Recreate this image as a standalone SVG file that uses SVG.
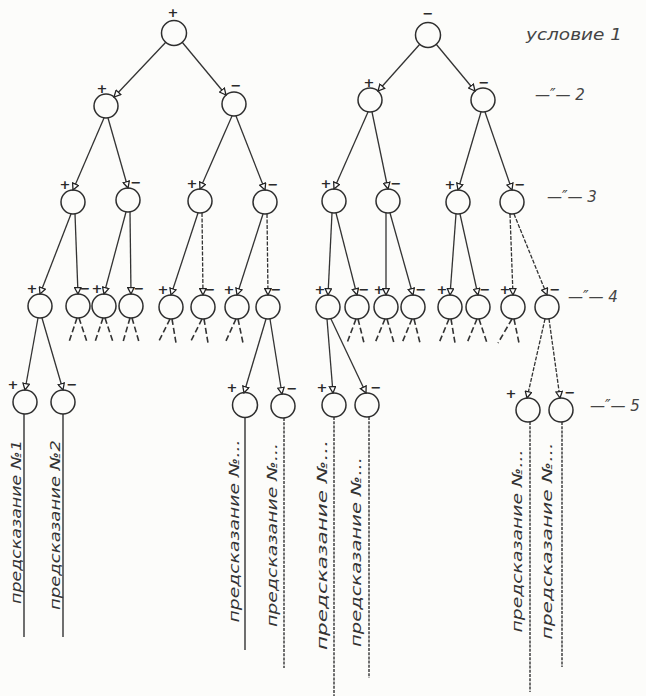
<svg xmlns="http://www.w3.org/2000/svg" width="646" height="696" viewBox="0 0 646 696">
<defs>
<style>
.bg{fill:#fcfcfa}
.n circle{fill:none;stroke:#2e2e2e;stroke-width:1.5}
.e line{stroke:#333;stroke-width:1.3;marker-end:url(#ah)}
.e line.d{stroke-dasharray:4 1.5}
.stub line{stroke:#333;stroke-width:1.6;stroke-dasharray:6 3}
.leaf line{stroke:#333;stroke-width:1.4}
.leaf line.d{stroke-dasharray:3 1.2}
.sg{font-family:"DejaVu Sans",sans-serif;font-size:13px;font-weight:bold;fill:#2a2a2a;text-anchor:middle}
.lv{font-family:"DejaVu Sans",sans-serif;font-style:italic;font-size:15px;fill:#444}
.pr{font-family:"DejaVu Sans",sans-serif;font-style:italic;font-size:14px;fill:#333;text-anchor:middle}
</style>
<marker id="ah" viewBox="0 0 10 10" refX="9" refY="5" markerWidth="8" markerHeight="8" orient="auto" markerUnits="userSpaceOnUse">
<path d="M1,1 L9,5 L1,9 z" fill="#fff" stroke="#222" stroke-width="1.6"/>
</marker>
</defs>
<rect class="bg" x="0" y="0" width="646" height="696"/>

<g id="connectors" class="e">
<line x1="166" y1="42" x2="114" y2="97"/>
<line x1="182" y1="42" x2="226" y2="95"/>
<line x1="420" y1="44" x2="378" y2="91"/>
<line x1="436" y1="44" x2="475" y2="91"/>
<line x1="104" y1="118" x2="73" y2="190"/>
<line x1="108" y1="118" x2="128" y2="188"/>
<line x1="232" y1="116" x2="200" y2="189"/>
<line x1="236" y1="116" x2="265" y2="190"/>
<line x1="368" y1="112" x2="334" y2="189"/>
<line x1="372" y1="112" x2="388" y2="189"/>
<line x1="481" y1="112" x2="458" y2="190"/>
<line x1="485" y1="112" x2="512" y2="190"/>
<line x1="71" y1="214" x2="40" y2="294"/>
<line x1="75" y1="214" x2="78" y2="294"/>
<line x1="126" y1="212" x2="104" y2="294"/>
<line x1="130" y1="212" x2="131" y2="294"/>
<line x1="198" y1="213" x2="171" y2="295"/>
<line class="d" x1="202" y1="213" x2="203" y2="295"/>
<line x1="263" y1="214" x2="237" y2="295"/>
<line class="d" x1="267" y1="214" x2="268" y2="295"/>
<line x1="332" y1="213" x2="328" y2="295"/>
<line x1="336" y1="213" x2="357" y2="295"/>
<line x1="386" y1="213" x2="386" y2="295"/>
<line x1="390" y1="213" x2="413" y2="295"/>
<line x1="456" y1="214" x2="450" y2="295"/>
<line x1="460" y1="214" x2="478" y2="295"/>
<line class="d" x1="510" y1="214" x2="513" y2="295"/>
<line class="d" x1="514" y1="214" x2="547" y2="295"/>
<line x1="38" y1="318" x2="25" y2="390"/>
<line x1="42" y1="318" x2="63" y2="390"/>
<line x1="266" y1="319" x2="244" y2="393"/>
<line x1="270" y1="319" x2="282" y2="394"/>
<line x1="327" y1="319" x2="333" y2="393"/>
<line x1="331" y1="319" x2="366" y2="393"/>
<line class="d" x1="545" y1="319" x2="527" y2="398"/>
<line class="d" x1="549" y1="319" x2="560" y2="398"/>
</g>

<g id="stubs" class="stub">
<line x1="77" y1="318" x2="69" y2="342"/><line x1="79" y1="318" x2="87" y2="342"/>
<line x1="103" y1="318" x2="95" y2="342"/><line x1="105" y1="318" x2="113" y2="342"/>
<line x1="130" y1="318" x2="123" y2="342"/><line x1="132" y1="318" x2="139" y2="342"/>
<line x1="170" y1="319" x2="158" y2="343"/><line x1="172" y1="319" x2="176" y2="343"/>
<line x1="202" y1="319" x2="190" y2="343"/><line x1="204" y1="319" x2="208" y2="343"/>
<line x1="236" y1="319" x2="225" y2="343"/><line x1="238" y1="319" x2="243" y2="343"/>
<line x1="356" y1="319" x2="347" y2="343"/><line x1="358" y1="319" x2="364" y2="343"/>
<line x1="385" y1="319" x2="375" y2="343"/><line x1="387" y1="319" x2="394" y2="343"/>
<line x1="412" y1="319" x2="402" y2="343"/><line x1="414" y1="319" x2="420" y2="343"/>
<line x1="449" y1="319" x2="439" y2="343"/><line x1="451" y1="319" x2="455" y2="343"/>
<line x1="477" y1="319" x2="467" y2="343"/><line x1="479" y1="319" x2="487" y2="343"/>
<line x1="512" y1="319" x2="498" y2="343"/><line x1="514" y1="319" x2="519" y2="343"/>
</g>

<g id="leaves" class="leaf">
<line x1="24" y1="414" x2="24" y2="637"/>
<line x1="63" y1="414" x2="63" y2="637"/>
<line x1="245" y1="417" x2="245" y2="650"/>
<line class="d" x1="284" y1="418" x2="284" y2="668"/>
<line class="d" x1="334" y1="417" x2="334" y2="696"/>
<line class="d" x1="369" y1="417" x2="369" y2="678"/>
<line class="d" x1="530" y1="422" x2="530" y2="692"/>
<line class="d" x1="562" y1="422" x2="562" y2="667"/>
</g>

<g id="nodes" class="n">
<g id="n1"><circle cx="174" cy="33" r="12.5"/><text class="sg" x="173" y="17">+</text></g>
<g id="n2"><circle cx="428" cy="35" r="12.5"/><text class="sg" x="428" y="18">−</text></g>
<g id="n1a"><circle cx="106" cy="106" r="12"/><text class="sg" x="102" y="93">+</text></g>
<g id="n1b"><circle cx="234" cy="104" r="12"/><text class="sg" x="236" y="90">−</text></g>
<g id="n2a"><circle cx="370" cy="100" r="12"/><text class="sg" x="369" y="87">+</text></g>
<g id="n2b"><circle cx="483" cy="100" r="12"/><text class="sg" x="484" y="87">−</text></g>

<g id="n1aa"><circle cx="73" cy="202" r="12"/><text class="sg" x="65" y="189">+</text></g>
<g id="n1ab"><circle cx="128" cy="200" r="12"/><text class="sg" x="136" y="187">−</text></g>
<g id="n1ba"><circle cx="200" cy="201" r="12"/><text class="sg" x="192" y="188">+</text></g>
<g id="n1bb"><circle cx="265" cy="202" r="12"/><text class="sg" x="273" y="189">−</text></g>
<g id="n2aa"><circle cx="334" cy="201" r="12"/><text class="sg" x="326" y="188">+</text></g>
<g id="n2ab"><circle cx="388" cy="201" r="12"/><text class="sg" x="396" y="188">−</text></g>
<g id="n2ba"><circle cx="458" cy="202" r="12"/><text class="sg" x="450" y="189">+</text></g>
<g id="n2bb"><circle cx="512" cy="202" r="12"/><text class="sg" x="520" y="189">−</text></g>

<g id="l4-1"><circle cx="40" cy="306" r="12"/><text class="sg" x="32" y="293">+</text></g>
<g id="l4-2"><circle cx="78" cy="306" r="12"/><text class="sg" x="85" y="293">−</text></g>
<g id="l4-3"><circle cx="104" cy="306" r="12"/><text class="sg" x="97" y="293">+</text></g>
<g id="l4-4"><circle cx="131" cy="306" r="12"/><text class="sg" x="139" y="293">−</text></g>
<g id="l4-5"><circle cx="171" cy="307" r="12"/><text class="sg" x="163" y="294">+</text></g>
<g id="l4-6"><circle cx="203" cy="307" r="12"/><text class="sg" x="210" y="294">−</text></g>
<g id="l4-7"><circle cx="237" cy="307" r="12"/><text class="sg" x="229" y="294">+</text></g>
<g id="l4-8"><circle cx="268" cy="307" r="12"/><text class="sg" x="276" y="294">−</text></g>
<g id="l4-9"><circle cx="328" cy="307" r="12"/><text class="sg" x="320" y="294">+</text></g>
<g id="l4-10"><circle cx="357" cy="307" r="12"/><text class="sg" x="364" y="294">−</text></g>
<g id="l4-11"><circle cx="386" cy="307" r="12"/><text class="sg" x="379" y="294">+</text></g>
<g id="l4-12"><circle cx="413" cy="307" r="12"/><text class="sg" x="421" y="294">−</text></g>
<g id="l4-13"><circle cx="450" cy="307" r="12"/><text class="sg" x="442" y="294">+</text></g>
<g id="l4-14"><circle cx="478" cy="307" r="12"/><text class="sg" x="485" y="294">−</text></g>
<g id="l4-15"><circle cx="513" cy="307" r="12"/><text class="sg" x="505" y="294">+</text></g>
<g id="l4-16"><circle cx="547" cy="307" r="12"/><text class="sg" x="555" y="294">−</text></g>

<g id="l5-1"><circle cx="25" cy="402" r="12"/><text class="sg" x="13" y="389">+</text></g>
<g id="l5-2"><circle cx="63" cy="402" r="12"/><text class="sg" x="72" y="389">−</text></g>
<g id="l5-3"><circle cx="245" cy="405" r="12.5"/><text class="sg" x="232" y="392">+</text></g>
<g id="l5-4"><circle cx="283" cy="406" r="12"/><text class="sg" x="292" y="393">−</text></g>
<g id="l5-5"><circle cx="334" cy="405" r="12"/><text class="sg" x="322" y="392">+</text></g>
<g id="l5-6"><circle cx="367" cy="405" r="12"/><text class="sg" x="376" y="392">−</text></g>
<g id="l5-7"><circle cx="528" cy="410" r="12"/><text class="sg" x="511" y="398">+</text></g>
<g id="l5-8"><circle cx="561" cy="410" r="12"/><text class="sg" x="570" y="397">−</text></g>
</g>

<g id="levels">
<text class="lv" x="526" y="40" textLength="96" lengthAdjust="spacingAndGlyphs">условие 1</text>
<text class="lv" x="535" y="100">—″—  2</text>
<text class="lv" x="547" y="202">—″—  3</text>
<text class="lv" x="568" y="302">—″—  4</text>
<text class="lv" x="590" y="411">—″—  5</text>
</g>

<g id="predictions">
<text class="pr" transform="translate(21,522) rotate(-90)" textLength="164" lengthAdjust="spacingAndGlyphs">предсказание №1</text>
<text class="pr" transform="translate(60,525) rotate(-90)" textLength="170" lengthAdjust="spacingAndGlyphs">предсказание №2</text>
<text class="pr" transform="translate(239,531) rotate(-90)" textLength="183" lengthAdjust="spacingAndGlyphs">предсказание №...</text>
<text class="pr" transform="translate(277,535) rotate(-90)" textLength="184" lengthAdjust="spacingAndGlyphs">предсказание №...</text>
<text class="pr" transform="translate(327,545) rotate(-90)" textLength="210" lengthAdjust="spacingAndGlyphs">предсказание  №...</text>
<text class="pr" transform="translate(361,552) rotate(-90)" textLength="190" lengthAdjust="spacingAndGlyphs">предсказание №...</text>
<text class="pr" transform="translate(522,541) rotate(-90)" textLength="183" lengthAdjust="spacingAndGlyphs">предсказание №...</text>
<text class="pr" transform="translate(552,541) rotate(-90)" textLength="197" lengthAdjust="spacingAndGlyphs">предсказание №...</text>
</g>
</svg>
